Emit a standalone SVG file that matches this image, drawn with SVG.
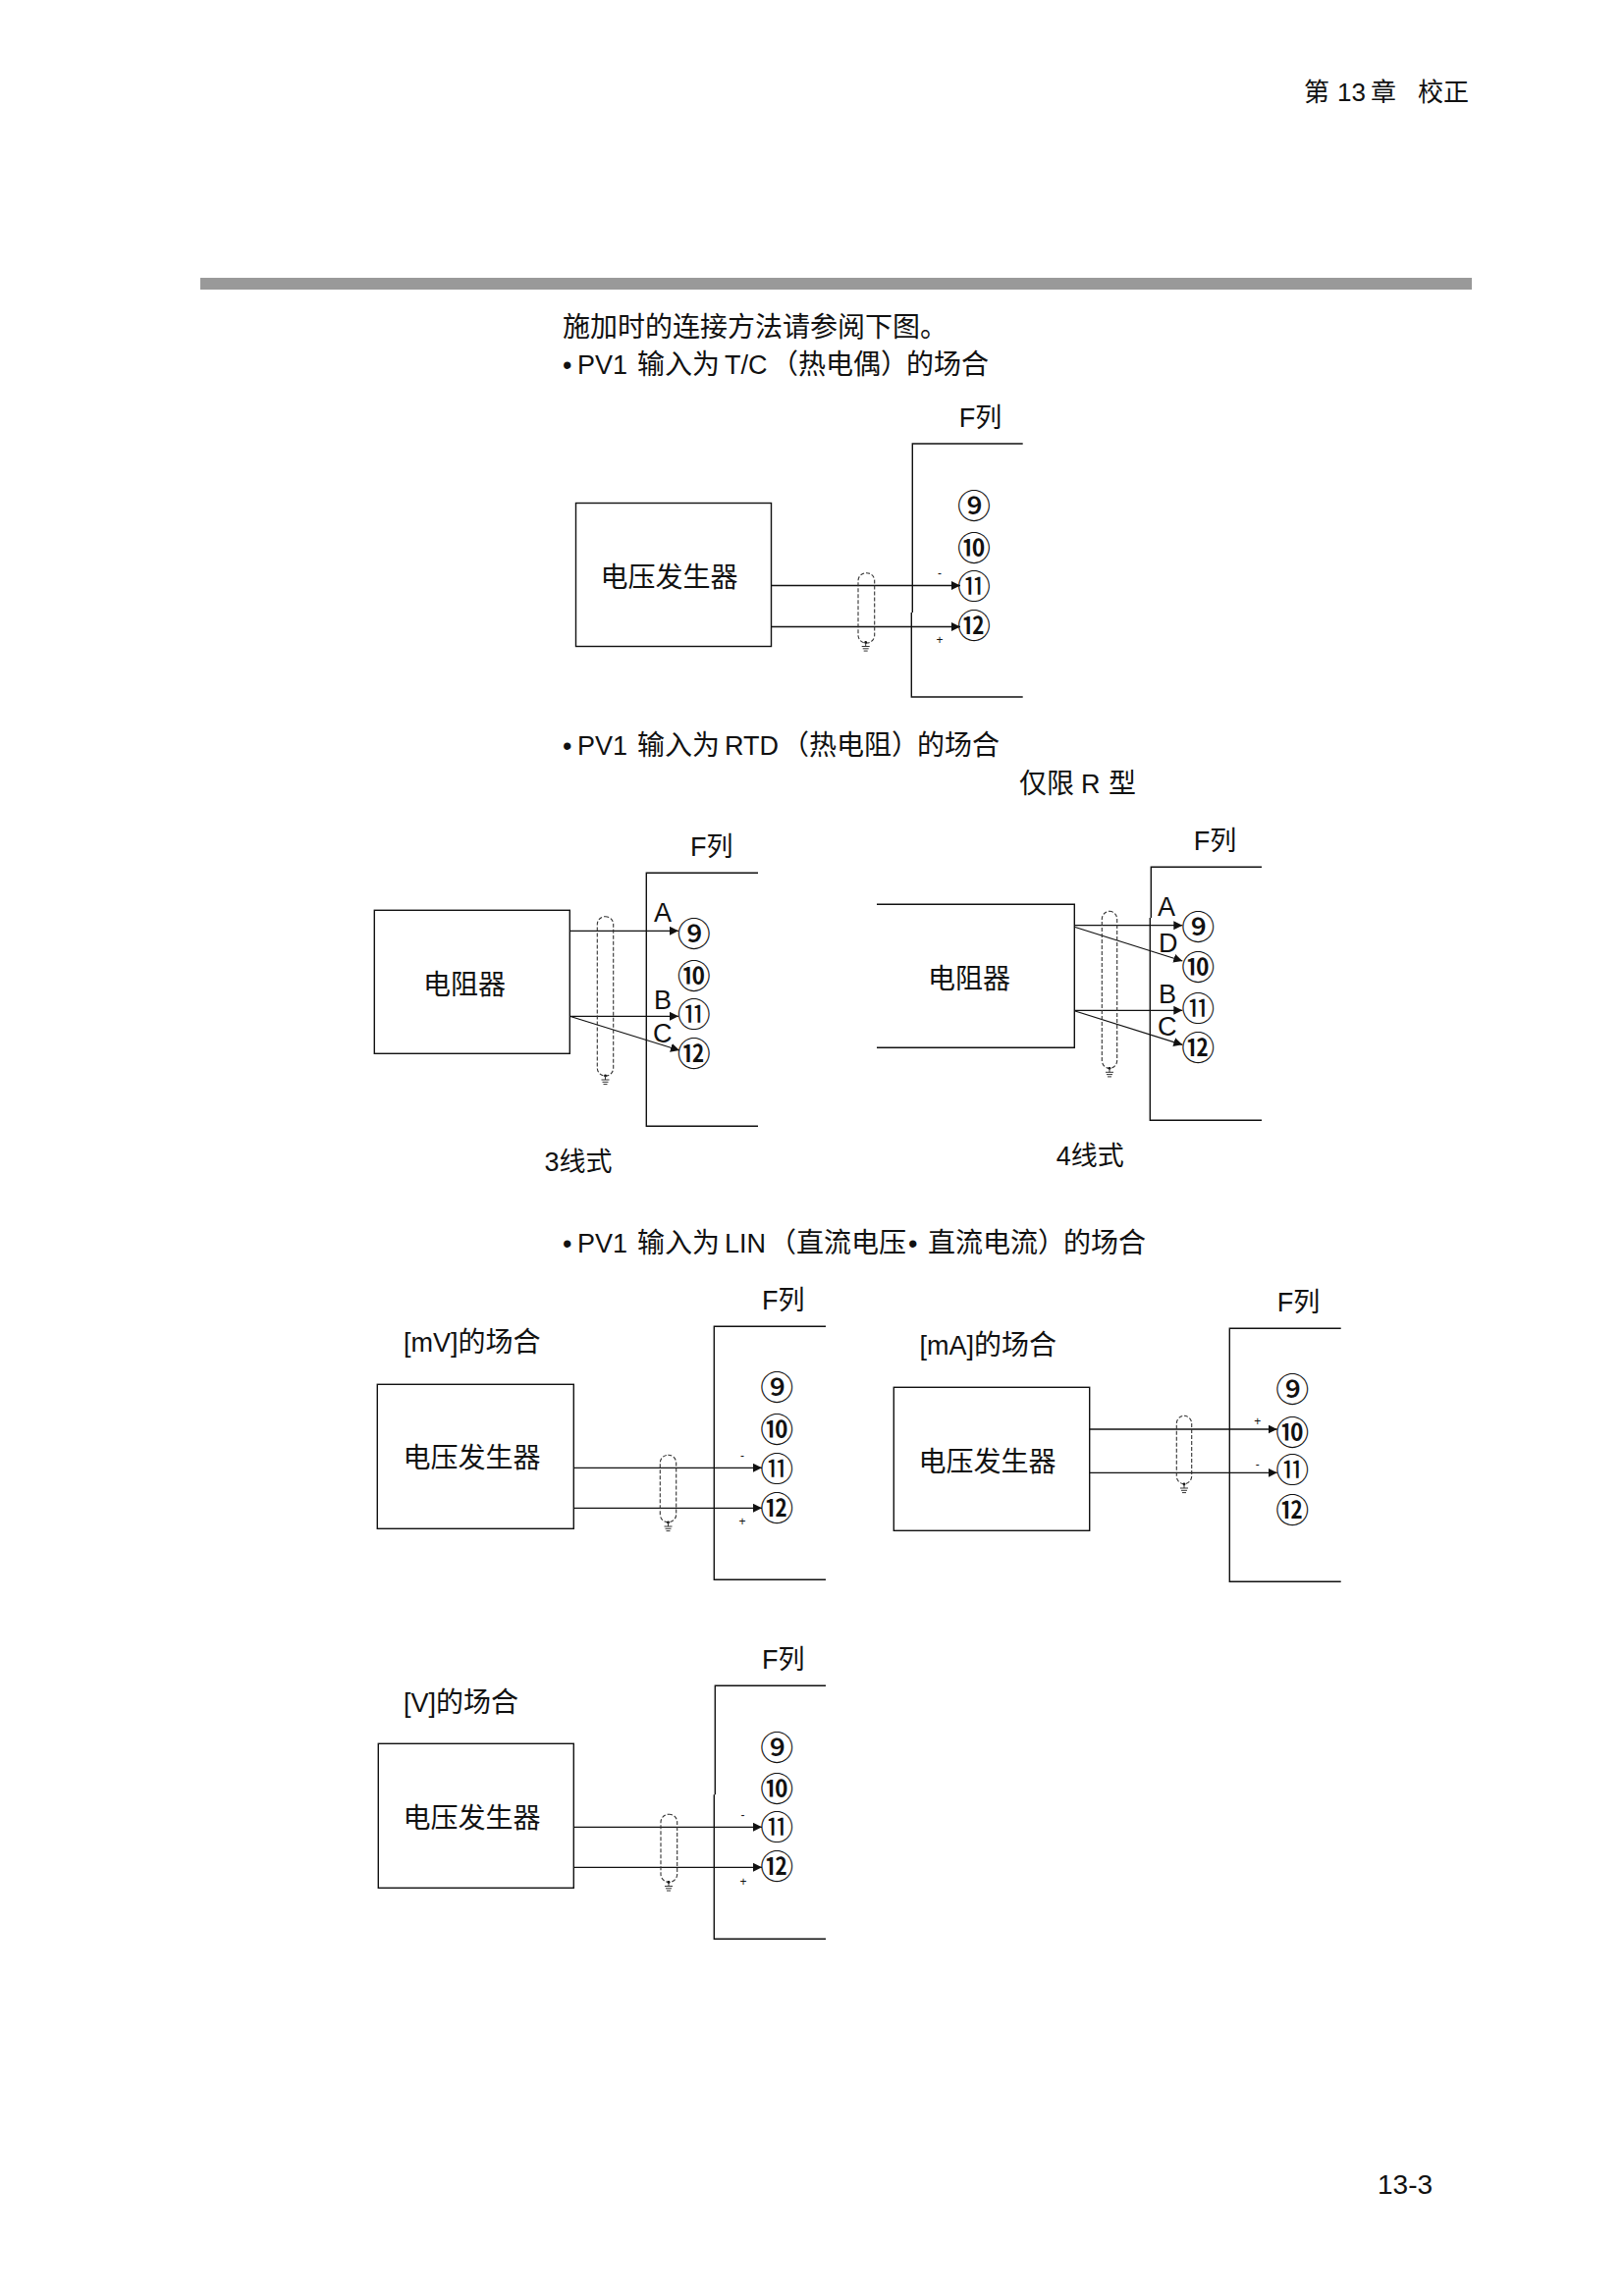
<svg xmlns="http://www.w3.org/2000/svg" width="1654" height="2339" viewBox="0 0 1654 2339">
<style>
text{font-family:"Liberation Sans","Noto Sans CJK SC",sans-serif;font-size:27px;fill:#111}
.c{font-size:28px}
.hd{font-size:26px}
.n{font-family:"Noto Sans CJK SC",sans-serif;font-size:34px;text-anchor:middle}
.t{font-weight:500}
.s{font-size:12px;text-anchor:middle}
.b{fill:none;stroke:#111;stroke-width:1.4}
.l{fill:none;stroke:#111;stroke-width:1.4}
.w{fill:none;stroke:#111;stroke-width:1.3;marker-end:url(#ah)}
.sh{fill:none;stroke:#333;stroke-width:1.1;stroke-dasharray:4 2}
</style>
<defs>
<marker id="ah" markerUnits="userSpaceOnUse" markerWidth="10" markerHeight="10" refX="9" refY="4.5" orient="auto"><path d="M0 0L9 4.5L0 9Z" fill="#111"/></marker>
<g id="gnd"><circle cx="0" cy="0" r="1.4" fill="#111"/><path d="M0 0V4M-4 4H4M-3 6.3H3M-2 8.6H2" fill="none" stroke="#333" stroke-width="1"/></g>
</defs>
<rect width="1654" height="2339" fill="#fff"/>
<g id="page-text">
<text class="hd" x="1328" y="103">第</text><text class="hd" x="1362" y="103">13</text><text class="hd" x="1396" y="103">章</text><text class="hd" x="1444" y="103">校正</text>
<rect x="204" y="283" width="1295" height="12" fill="#999"/>
<text class="c" x="573" y="343">施加时的连接方法请参阅下图。</text>
<text y="381"><tspan x="573">•</tspan><tspan x="588">PV1</tspan><tspan class="c" x="649">输入为</tspan><tspan x="738">T/C</tspan><tspan class="c" x="785">（热电偶）</tspan><tspan class="c" x="923">的场合</tspan></text>
<text y="769"><tspan x="573">•</tspan><tspan x="588">PV1</tspan><tspan class="c" x="649">输入为</tspan><tspan x="738">RTD</tspan><tspan class="c" x="796">（热电阻）</tspan><tspan class="c" x="934">的场合</tspan></text>
<text y="808"><tspan class="c" x="1038">仅限</tspan><tspan x="1101">R</tspan><tspan class="c" x="1129">型</tspan></text>
<text y="1275.5"><tspan x="573">•</tspan><tspan x="588">PV1</tspan><tspan class="c" x="649">输入为</tspan><tspan x="738">LIN</tspan><tspan class="c" x="783">（直流电压</tspan><tspan x="925">•</tspan><tspan class="c" x="945">直流电流）</tspan><tspan class="c" x="1083">的场合</tspan></text>
<text class="c" x="1403" y="2235">13-3</text>
</g>

<g id="connectors">
<path class="w" d="M786 596.5H978"/><path class="w" d="M786 638.5H978"/>
<rect class="sh" x="874" y="583.7" width="16.7" height="71.3" rx="8"/><use href="#gnd" x="881.7" y="654.5"/>
<path class="w" d="M580 948.3H691"/><path class="w" d="M580 1035.3H691"/><path class="w" d="M581 1035.5L692 1070"/>
<rect class="sh" x="608.3" y="933.7" width="16.4" height="162.3" rx="8"/><use href="#gnd" x="616.5" y="1096"/>
<path class="w" d="M1095 942.7H1204.3"/><path class="w" d="M1095 944.5L1204.3 979"/><path class="w" d="M1095 1029.3H1204.3"/><path class="w" d="M1095 1030L1204.3 1064.3"/>
<rect class="sh" x="1122.3" y="928.3" width="15.4" height="160" rx="8"/><use href="#gnd" x="1130" y="1088.3"/>
<path class="w" d="M584.5 1495.3H776"/><path class="w" d="M584.5 1536.3H776"/>
<rect class="sh" x="672.3" y="1482.3" width="16.4" height="68.4" rx="8"/><use href="#gnd" x="680.5" y="1551"/>
<path class="w" d="M1110 1456H1300.7"/><path class="w" d="M1110 1500.3H1300.7"/>
<rect class="sh" x="1198.3" y="1442.3" width="15.4" height="69.4" rx="8"/><use href="#gnd" x="1206" y="1512"/>
<path class="w" d="M584.5 1861.3H776"/><path class="w" d="M584.5 1902.3H776"/>
<rect class="sh" x="673" y="1848.3" width="16.7" height="69" rx="8"/><use href="#gnd" x="681" y="1917.5"/>
</g>

<g id="tc-source"><rect class="b" x="586.5" y="512.5" width="199" height="146"/><text class="c" x="611.5" y="598">电压发生器</text></g>
<g id="tc-terminal"><path class="l" d="M1041.7 452H929.3V624M928.3 624V710H1041.7"/><text x="976.7" y="435">F列</text>
<text class="n t" x="992" y="527.5">⑨</text><text class="n t" x="992" y="570.5">⑩</text><text class="n" x="992" y="609.5">⑪</text><text class="n t" x="992" y="649.5">⑫</text>
<text class="s" x="957" y="588">-</text><text class="s" x="957" y="656">+</text></g>

<g id="rtd3-source"><rect class="b" x="381.3" y="927.3" width="199" height="146"/><text class="c" x="431" y="1013">电阻器</text></g>
<g id="rtd3-terminal"><path class="l" d="M772 889.3H658.3V1147.3H772"/><text x="703" y="872">F列</text>
<text class="n t" x="706.7" y="963.5">⑨</text><text class="n t" x="706.7" y="1006.5">⑩</text><text class="n" x="706.7" y="1045.8">⑪</text><text class="n t" x="706.7" y="1085.5">⑫</text>
<text x="666" y="939">A</text><text x="666" y="1028">B</text><text x="665" y="1061.5">C</text></g>
<text id="rtd3-caption" x="554.5" y="1193">3线式</text>

<g id="rtd4-source"><path class="l" d="M893 921.3H1094.3V1067.3H893"/><text class="c" x="945" y="1006.7">电阻器</text></g>
<g id="rtd4-terminal"><path class="l" d="M1285 883.3H1172.3V935M1171.3 935V1141.3H1285"/><text x="1215.7" y="865.7">F列</text>
<text class="n t" x="1220.3" y="957">⑨</text><text class="n t" x="1220.3" y="997.5">⑩</text><text class="n" x="1220.3" y="1040">⑪</text><text class="n t" x="1220.3" y="1080">⑫</text>
<text x="1179" y="933.3">A</text><text x="1180" y="970">D</text><text x="1180" y="1021.7">B</text><text x="1179" y="1055">C</text></g>
<text id="rtd4-caption" x="1075.7" y="1187.3">4线式</text>

<text id="mv-title" x="411" y="1376.5">[mV]<tspan class="c">的场合</tspan></text>
<g id="mv-source"><rect class="b" x="384.3" y="1410.3" width="200" height="147"/><text class="c" x="410.5" y="1495">电压发生器</text></g>
<g id="mv-terminal"><path class="l" d="M841 1351.3H727.3V1609.3H841"/><text x="776" y="1334.3">F列</text>
<text class="n t" x="791.3" y="1425.5">⑨</text><text class="n t" x="791.3" y="1469">⑩</text><text class="n" x="791.3" y="1508.5">⑪</text><text class="n t" x="791.3" y="1548.5">⑫</text>
<text class="s" x="756" y="1487">-</text><text class="s" x="756" y="1554">+</text></g>

<text id="ma-title" x="936.5" y="1380">[mA]<tspan class="c">的场合</tspan></text>
<g id="ma-source"><rect class="b" x="910.3" y="1413.3" width="199.4" height="146"/><text class="c" x="935.5" y="1498.5">电压发生器</text></g>
<g id="ma-terminal"><path class="l" d="M1365.7 1353.3H1252.3V1611.3H1365.7"/><text x="1300.7" y="1336">F列</text>
<text class="n t" x="1316.3" y="1428">⑨</text><text class="n t" x="1316.3" y="1471.5">⑩</text><text class="n" x="1316.3" y="1510">⑪</text><text class="n t" x="1316.3" y="1550.5">⑫</text>
<text class="s" x="1280.7" y="1451.7">+</text><text class="s" x="1280.7" y="1496">-</text></g>

<text id="v-title" x="411" y="1744.3">[V]<tspan class="c">的场合</tspan></text>
<g id="v-source"><rect class="b" x="385.3" y="1776.3" width="199" height="147"/><text class="c" x="410.5" y="1861.5">电压发生器</text></g>
<g id="v-terminal"><path class="l" d="M841 1717.3H728.3V1828.3M727.3 1828.3V1975.3H841"/><text x="776" y="1700.3">F列</text>
<text class="n t" x="791.3" y="1792.5">⑨</text><text class="n t" x="791.3" y="1835">⑩</text><text class="n" x="791.3" y="1874">⑪</text><text class="n t" x="791.3" y="1914">⑫</text>
<text class="s" x="756.5" y="1853">-</text><text class="s" x="757" y="1921">+</text></g>
</svg>
